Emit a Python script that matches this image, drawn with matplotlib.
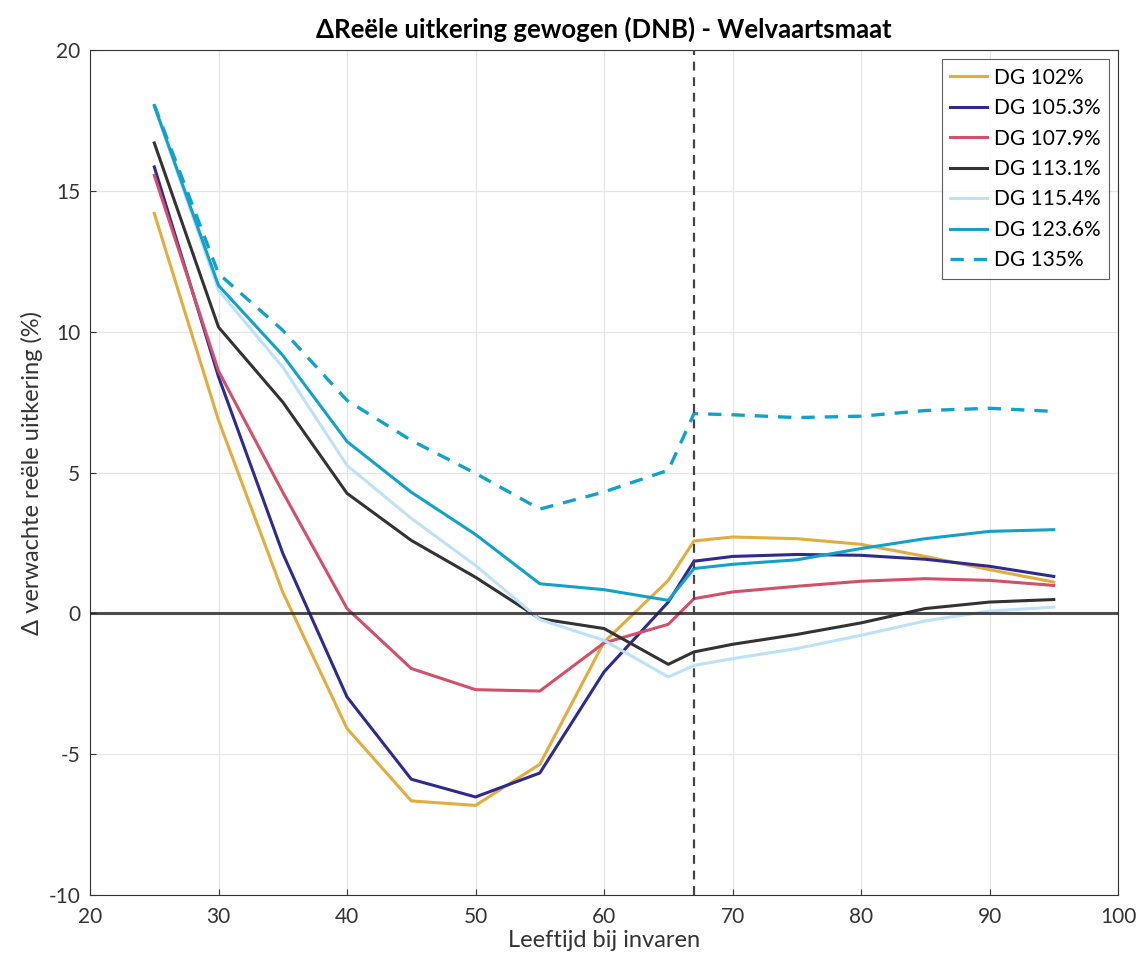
import matplotlib.pyplot as plt
import numpy as np

plt.rcParams['font.family'] = ['Lato', 'DejaVu Sans']
plt.rcParams['axes.unicode_minus'] = False

ages = [25, 30, 35, 40, 45, 50, 55, 60, 65, 67, 70, 75, 80, 85, 90, 95]

dg102 = [14.2, 6.85, 0.75, -4.09, -6.66, -6.82, -5.36, -1.02, 1.17, 2.57, 2.71, 2.65, 2.45, 2.02, 1.55, 1.11]
dg105 = [15.85, 8.4, 2.13, -2.97, -5.89, -6.52, -5.67, -2.08, 0.4, 1.85, 2.02, 2.09, 2.06, 1.92, 1.67, 1.31]
dg108 = [15.55, 8.6, 4.3, 0.17, -1.96, -2.71, -2.76, -1.05, -0.39, 0.52, 0.76, 0.96, 1.14, 1.23, 1.17, 0.99]
dg113 = [16.7, 10.16, 7.5, 4.26, 2.59, 1.28, -0.19, -0.54, -1.81, -1.37, -1.10, -0.75, -0.34, 0.17, 0.4, 0.49]
dg115 = [18.0, 11.47, 8.74, 5.25, 3.37, 1.7, -0.22, -0.96, -2.26, -1.85, -1.61, -1.25, -0.78, -0.27, 0.08, 0.22]
dg124 = [18.03, 11.64, 9.16, 6.1, 4.3, 2.8, 1.05, 0.84, 0.46, 1.59, 1.74, 1.9, 2.3, 2.65, 2.91, 2.97]
dg135 = [18.05, 12.06, 10.05, 7.56, 6.14, 4.97, 3.7, 4.31, 5.08, 7.09, 7.05, 6.95, 7.0, 7.2, 7.28, 7.17]

series = [
    ('DG 102%', dg102, '#E2AC3F', '-'),
    ('DG 105.3%', dg105, '#2E2B8F', '-'),
    ('DG 107.9%', dg108, '#D1506A', '-'),
    ('DG 113.1%', dg113, '#333333', '-'),
    ('DG 115.4%', dg115, '#BDE1F8', '-'),
    ('DG 123.6%', dg124, '#13A1C9', '-'),
    ('DG 135%', dg135, '#13A1C9', '--'),
]

fig = plt.figure(figsize=(11.44, 9.64), dpi=100)
ax = fig.add_axes([0.0787, 0.0716, 0.8986, 0.8765])

for label, vals, color, ls in series:
    if ls == '--':
        ax.plot(ages, vals, color=color, lw=2.4, ls=(0, (4, 3)), label=label)
    else:
        ax.plot(ages, vals, color=color, lw=2.2, label=label)

ax.axhline(0, color='#222222', lw=2.2, alpha=0.8, zorder=5)
ax.axvline(67, color='#444444', lw=1.6, ls=(0, (4, 3)), zorder=5)

ax.set_xlim(20, 100)
ax.set_ylim(-10, 20)
ax.set_xticks(np.arange(20, 101, 10))
ax.set_yticks(np.arange(-10, 21, 5))
ax.grid(True, color='#e6e6e6', lw=0.9)
ax.set_axisbelow(True)
ax.tick_params(labelsize=15, colors='#333333', direction='in', length=4)
ax.tick_params(axis='x', pad=9)
ax.tick_params(axis='y', pad=7)
for s in ax.spines.values():
    s.set_color('#333333')
    s.set_linewidth(0.8)

ax.set_title('ΔReële uitkering gewogen (DNB) - Welvaartsmaat', fontsize=18.5, fontweight='bold', pad=9)
ax.set_xlabel('Leeftijd bij invaren', fontsize=17, color='#333333', labelpad=2)
ax.set_ylabel('Δ verwachte reële uitkering (%)', fontsize=17, color='#333333')

leg = ax.legend(loc='upper right', fontsize=15, frameon=True, fancybox=False,
                edgecolor='#333333', handlelength=1.8, borderaxespad=0.45,
                labelspacing=0.5, handletextpad=0.3, borderpad=0.4)
leg.get_frame().set_linewidth(0.8)

fig.savefig('out.png')
